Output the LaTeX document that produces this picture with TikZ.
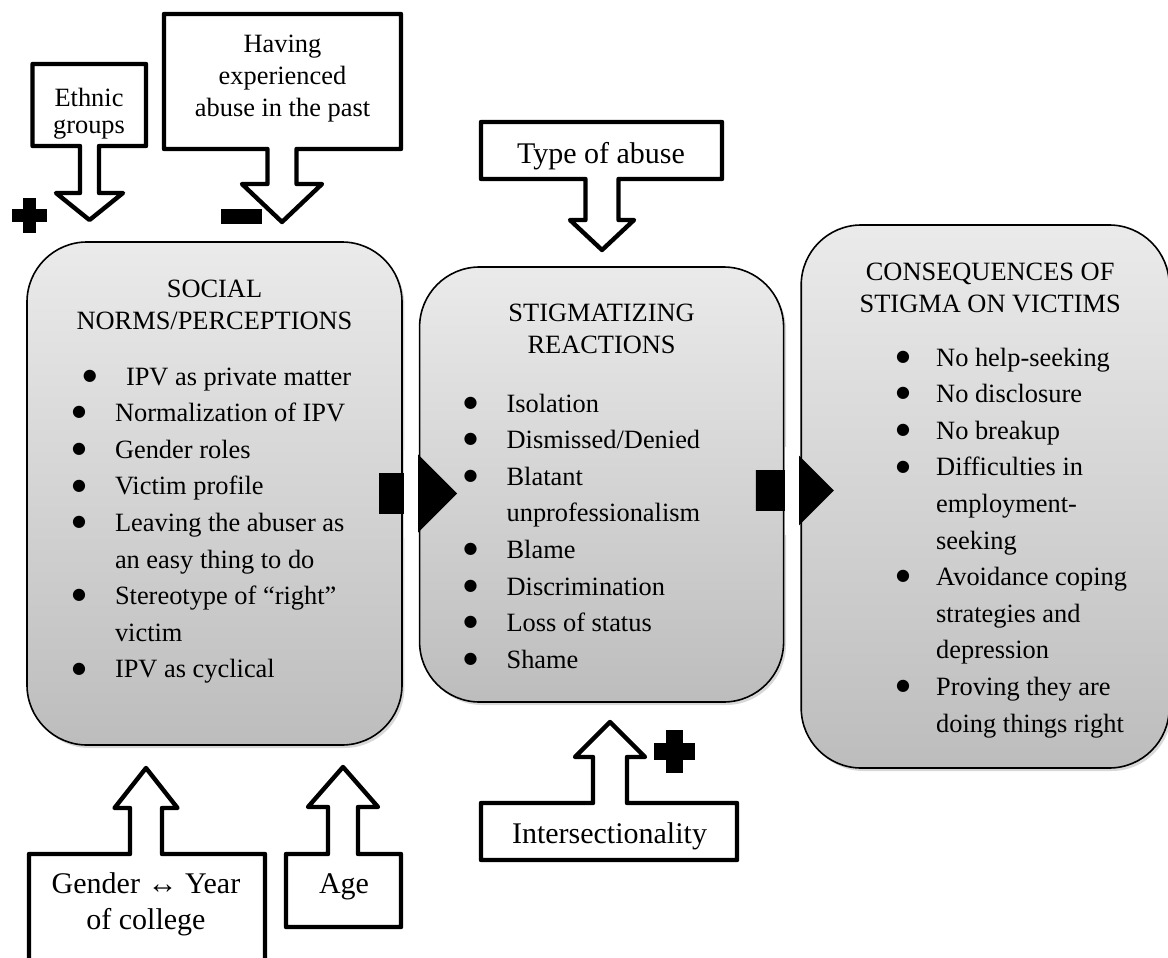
\documentclass[tikz,border=0pt]{standalone}
\usepackage{fontspec}
\setmainfont{Liberation Serif}
\newfontfamily\dotfont{DejaVu Sans}
\usetikzlibrary{positioning,calc,shapes.arrows,shadows}
\newcommand{\bul}[1][21.5pt]{\makebox[#1][l]{\raisebox{2.4pt}{\dotfont\fontsize{8}{8}\selectfont ●}}}

\begin{document}
\begin{tikzpicture}[
    x=0.5pt, y=-0.5pt,
    font=\normalfont,
    mainbox/.style={
		rectangle,
		rounded corners=30pt,
		draw=black,
		line width=0.8pt,
		top color=gray!16,
		bottom color=gray!52,
		drop shadow={shadow xshift=1.2pt, shadow yshift=-1.5pt, opacity=0.3},
		inner sep=0pt
	},
	bigarrow/.style={
		single arrow,
		fill=black,
		inner sep=0pt,
		text height=10pt,
		text depth=10pt,
		single arrow head extend=10.25pt,
		single arrow head indent=0pt,
		single arrow tip angle=90,
		minimum height=39pt,
		anchor=tip
	},
	callline/.style={
		draw=black,
		line width=2.2pt,
		line join=round,
		fill=white
	},
	calltext/.style={
		align=center,
		inner sep=0pt,
		font=\fontsize{13.2}{16}\selectfont
	},
	calltextb/.style={
		align=center,
		inner sep=0pt,
		font=\fontsize{15}{18}\selectfont
	}
  ]
  \fill[white, use as bounding box] (0,0) rectangle (1168,958);

    % We start by placing the blocks
  \node [mainbox] (social) at (214.5,493.5)
 {%
 \begin{minipage}[c][251.5pt][t]{187.5pt}
  \centering\fontsize{13.2}{16}\selectfont
  \rule{0pt}{27.5pt}SOCIAL\\
  NORMS/PERCEPTIONS\par
  \vspace{9.7pt}
  \raggedright\fontsize{13.2}{18.3}\selectfont\leftskip=22.5pt
  \hspace*{5.5pt}\bul IPV as private matter\\
  \bul Normalization of IPV\\
  \bul Gender roles\\
  \bul Victim profile\\
  \bul Leaving the abuser as\\
  \hspace*{21.5pt}an easy thing to do\\
  \bul Stereotype of “right”\\
  \hspace*{21.5pt}victim\\
  \bul IPV as cyclical
 \end{minipage}
 };

  \node [mainbox, right=8pt of social, yshift=4.5pt] (stigma)
 {%
 \begin{minipage}[c][217.5pt][t]{182pt}
  \centering\fontsize{13.2}{16}\selectfont
  \rule{0pt}{27pt}STIGMATIZING\\
  REACTIONS\par
  \vspace{11.2pt}
  \raggedright\fontsize{13.2}{18.3}\selectfont\leftskip=22pt
  \bul Isolation\\
  \bul Dismissed/Denied\\
  \bul Blatant\\
  \hspace*{21.5pt}unprofessionalism\\
  \bul Blame\\
  \bul Discrimination\\
  \bul Loss of status\\
  \bul Shame
 \end{minipage}
 };

  \node [mainbox, right=8pt of stigma, yshift=-6pt] (conseq)
 {%
 \begin{minipage}[c][271.5pt][t]{184pt}
  \centering\leftskip=5pt plus 1fil\fontsize{13.2}{16}\selectfont
  \rule{0pt}{27.5pt}CONSEQUENCES OF\\
  STIGMA ON VICTIMS\par
  \vspace{8.7pt}
  \raggedright\fontsize{13.2}{18.3}\selectfont\leftskip=47.5pt
  \bul[20pt]No help-seeking\\
  \bul[20pt]No disclosure\\
  \bul[20pt]No breakup\\
  \bul[20pt]Difficulties in\\
  \hspace*{20pt}employment-\\
  \hspace*{20pt}seeking\\
  \bul[20pt]Avoidance coping\\
  \hspace*{20pt}strategies and\\
  \hspace*{20pt}depression\\
  \bul[20pt]Proving they are\\
  \hspace*{20pt}doing things right
 \end{minipage}
 };

 % flow arrows between the blocks
 \node [bigarrow] (flowA) at ($(stigma.west |- social.east)+(19.5pt,0)$) {};
 \node [bigarrow] (flowB) at ($(conseq.west |- stigma.east)+(17pt,-3pt)$) {};
 \fill [white] ($(social.east)+(0.5pt,22pt)$) rectangle ($(stigma.west |- social.east)+(-0.5pt,-22pt)$);
 \fill [white] ($(stigma.east |- flowB.tip)+(0.5pt,22pt)$) rectangle ($(conseq.west |- flowB.tip)+(-0.5pt,-22pt)$);

 % callouts above
 \draw [callline] (32.5,64) -- (146,64) -- (146,146) -- (99,146) -- (99,193) -- (123,193) -- (89.5,220) -- (56,193) -- (80,193) -- (80,146) -- (32.5,146) -- cycle;
 \node [calltext, font=\fontsize{13.2}{13.5}\selectfont] (ethnic) at (89,113.5) {Ethnic\\groups};

 \draw [callline] (164,14) -- (401,14) -- (401,149) -- (296.5,149) -- (296.5,184) -- (322,184) -- (282,222) -- (242,184) -- (267.5,184) -- (267.5,149) -- (164,149) -- cycle;
 \node [calltext] (pastabuse) at (282.5,79) {Having\\experienced\\abuse in the past};

 \draw [callline] (481,122) -- (722,122) -- (722,179) -- (618.5,179) -- (618.5,220) -- (634,220) -- (602,250) -- (570,220) -- (585.5,220) -- (585.5,179) -- (481,179) -- cycle;
 \node [calltextb, anchor=base] (abusetype) at (601,163) {Type of abuse};

 % callouts below
 \draw [callline] (29,975) -- (29,854) -- (130,854) -- (130,808) -- (114.5,808) -- (146,768) -- (177.5,808) -- (162,808) -- (162,854) -- (265,854) -- (265,975) -- cycle;
 \node [calltextb] (gender) at (146,904) {Gender ↔ Year\\of college};

 \draw [callline] (286,927) -- (286,854) -- (328,854) -- (328,807) -- (308,807) -- (343,767) -- (378,807) -- (358,807) -- (358,854) -- (401,854) -- (401,927) -- cycle;
 \node [calltextb, anchor=base] (age) at (344,893) {Age};

 \draw [callline] (481,860) -- (481,803) -- (593,803) -- (593,757) -- (575,757) -- (610,722) -- (645,757) -- (627,757) -- (627,803) -- (737,803) -- (737,860) -- cycle;
 \node [calltextb, anchor=base] (inter) at (609.5,843) {Intersectionality};

 % signs
 \fill (12,209) rectangle (47,222);
 \fill (23,198) rectangle (36,233);
 \fill (221,209) rectangle (262,224);
 \fill (654,743) rectangle (695,760);
 \fill (666,730) rectangle (683,773);

\end{tikzpicture}
\end{document}
